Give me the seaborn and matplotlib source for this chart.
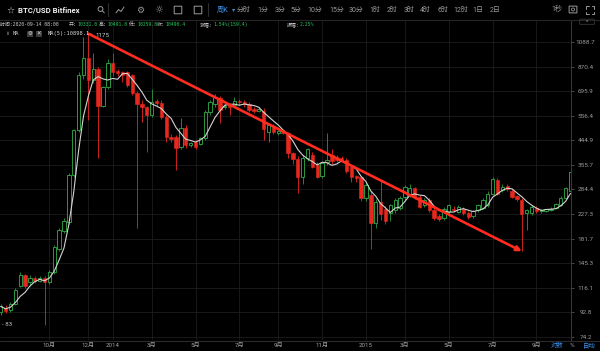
import numpy as np
import pandas as pd
import matplotlib
matplotlib.use('Agg')
import matplotlib.pyplot as plt
import matplotlib.patches as mpatches
import seaborn as sns

# weekly BTC/USD candles (Bitfinex), first week starts 2013-07-29
first_week = '2013-07-29'
opens = [93, 97, 95, 100, 118, 130, 122, 127, 124, 127, 123, 134, 166, 195, 212, 324, 489, 807, 940, 771,
         850, 608, 723, 900, 836, 826, 826, 807, 686, 620, 602, 560, 638, 626, 550, 458, 458, 418, 498, 426,
         440, 432, 455, 575, 617, 655, 600, 614, 614, 637, 632, 620, 590, 582, 580, 480, 505, 475, 481, 476,
         396, 375, 318, 380, 390, 356, 322, 364, 389, 383, 380, 372, 350, 322, 318, 262, 270, 210, 254, 238,
         230, 236, 240, 265, 270, 287, 265, 247, 258, 236, 223, 219, 232, 239, 232, 239, 230, 223, 236, 241,
         247, 274, 310, 283, 294, 281, 267, 259, 230, 230, 240, 233, 234, 236, 240, 247, 264, 280]
highs = [100, 99, 102, 116, 134, 132, 130, 129, 129, 129, 136, 172, 200, 219, 330, 495, 830, 1140, 1175, 984,
         870, 730, 935, 990, 850, 835, 840, 815, 700, 640, 610, 710, 650, 640, 560, 470, 465, 545, 510, 440,
         446, 460, 586, 640, 680, 665, 625, 620, 660, 650, 640, 630, 600, 600, 595, 520, 515, 490, 490, 482,
         400, 385, 390, 415, 400, 365, 365, 477, 412, 390, 385, 380, 355, 325, 322, 305, 280, 260, 310, 245,
         250, 262, 268, 296, 300, 292, 270, 262, 262, 240, 228, 242, 250, 244, 246, 243, 233, 236, 250, 263,
         280, 318, 315, 298, 299, 285, 270, 262, 238, 246, 244, 238, 239, 243, 252, 268, 292, 336]
lows = [91, 92, 93, 99, 117, 116, 118, 121, 122, 83, 120, 132, 163, 192, 208, 318, 480, 780, 535, 750,
        380, 600, 710, 800, 800, 757, 720, 670, 200, 525, 400, 550, 610, 540, 440, 440, 340, 410, 415, 420,
        410, 428, 445, 560, 600, 520, 590, 560, 605, 615, 605, 575, 570, 575, 446, 440, 470, 468, 470, 380,
        360, 275, 300, 370, 345, 315, 315, 355, 360, 365, 365, 330, 305, 305, 255, 255, 166, 200, 215, 208,
        213, 230, 235, 258, 265, 260, 240, 243, 232, 215, 214, 216, 228, 232, 229, 226, 218, 220, 232, 238,
        243, 270, 270, 278, 280, 262, 257, 162, 197, 225, 229, 230, 231, 234, 238, 245, 262, 278]
closes = [98, 94, 100, 114, 131, 118, 127, 124, 127, 123, 134, 168, 197, 213, 324, 489, 807, 940, 771, 850,
          608, 723, 900, 828, 820, 807, 737, 686, 620, 602, 560, 632, 626, 550, 458, 450, 414, 498, 426, 434,
          418, 455, 575, 630, 660, 586, 610, 600, 637, 630, 620, 586, 580, 590, 494, 510, 480, 483, 476, 396,
          375, 318, 380, 410, 350, 320, 362, 372, 367, 372, 372, 336, 318, 315, 262, 297, 210, 254, 228, 214,
          247, 258, 264, 292, 287, 265, 243, 258, 236, 219, 217, 239, 247, 236, 242, 230, 222, 233, 247, 258,
          274, 313, 274, 292, 285, 266, 261, 227, 236, 243, 233, 236, 237, 239, 249, 264, 287, 333]

price_ticks = [74.2, 92.8, 116.1, 145.3, 181.7, 227.3, 284.4, 355.7, 444.9, 556.4, 695.9, 870.4, 1088.7]
month_ticks = ['2013-10-07', '2013-12-02', '2014-01-06', '2014-03-03', '2014-05-05', '2014-07-07',
               '2014-09-01', '2014-11-03', '2015-01-05', '2015-03-02', '2015-05-04', '2015-07-06', '2015-09-07']
month_labels = ['10月', '12月', '2014', '3月', '5月', '7月', '9月', '11月', '2015', '3月', '5月', '7月', '9月']
intervals = ['分时', '1分', '3分', '5分', '10分', '15分', '30分', '1时', '2时', '3时', '4时', '6时', '12时', '1日', '2日']
interval_x = [243.5, 263, 280.5, 296, 314.5, 336.5, 356, 375, 392.5, 409, 425.5, 442.5, 460.5, 478, 495.5]
info_time = '时间:2020-09-14 08:00'
info_labels = ['开:', '高:', '低:', '收:', '涨幅:', '振幅:']
info_values = ['10331.0', '10491.0', '10259.0', '10490.4', '1.54%(159.4)', '2.25%']
info_value_x = [77, 107, 137, 165, 213, 300]

GREEN = '#2a9a3f'
RED = '#e8281f'
BLUE = '#3a8ee6'
GREY = '#9a9a9a'

sns.set_theme(style='dark')
plt.rcParams['font.family'] = ['Roboto', 'Noto Sans CJK SC', 'DejaVu Sans']
MONO = ['DejaVu Sans Mono', 'Noto Sans CJK SC']

df = pd.DataFrame({'date': pd.date_range(first_week, periods=len(opens), freq='7D'),
                   'open': opens, 'high': highs, 'low': lows, 'close': closes})
df['ma5'] = df['close'].rolling(5, min_periods=1).mean()

fig = plt.figure(figsize=(6, 3.51), dpi=100, facecolor='#000000')
ax = fig.add_axes([0, 11 / 351, 571 / 600, 320 / 351])
ax.set_facecolor('#000000')

up = df['close'] >= df['open']
dn = ~up
body_bot = np.minimum(df['open'], df['close'])
body_h = np.maximum((df['close'] - df['open']).abs(), body_bot * 0.006)

ax.vlines(df['date'][up], df['low'][up], df['high'][up], color=GREEN, lw=0.6, zorder=2)
ax.vlines(df['date'][dn], df['low'][dn], df['high'][dn], color=RED, lw=0.6, zorder=2)
ax.bar(df['date'][up], body_h[up], bottom=body_bot[up], width=4.8, facecolor='#000000',
       edgecolor=GREEN, linewidth=0.7, zorder=3)
ax.bar(df['date'][dn], body_h[dn], bottom=body_bot[dn], width=4.8, facecolor=RED,
       edgecolor=RED, linewidth=0.4, zorder=3)
sns.lineplot(data=df, x='date', y='ma5', ax=ax, color='#d4d4d4', linewidth=0.8, zorder=4)

ax.set_yscale('log')
ax.set_ylim(72.2, 1331)
x0 = matplotlib.dates.date2num(df['date'].iloc[0])
ax.set_xlim(x0 - 1.0, x0 + 819.7)
ax.set_xlabel('')
ax.set_ylabel('')

ax.yaxis.set_minor_locator(matplotlib.ticker.NullLocator())
ax.set_yticks(price_ticks)
ax.set_yticklabels([f'{v}' for v in price_ticks])
ax.yaxis.tick_right()
ax.tick_params(axis='y', length=2, width=0.5, color='#666666', labelcolor=GREY, labelsize=4.6, pad=8.5)
for lbl in ax.get_yticklabels():
    lbl.set_ha('center')
ax.set_xticks(pd.to_datetime(month_ticks))
ax.set_xticklabels(month_labels)
ax.tick_params(axis='x', length=0, labelcolor='#a4a4a4', labelsize=4.4, pad=2)
ax.grid(True, color='#1c1c1c', lw=0.6)
for side in ['top', 'left', 'bottom']:
    ax.spines[side].set_visible(False)
ax.spines['right'].set_color('#3a3a3a')
ax.spines['right'].set_linewidth(0.7)

# high / low markers and the trend arrow
i_hi = df['high'].idxmax()
i_lo = df['low'].idxmin()
ax.annotate('1175', xy=(df['date'][i_hi], df['high'][i_hi]), xytext=(5, -1.5), textcoords='offset points',
            color='#d0d0d0', fontsize=4.4, va='center',
            arrowprops=dict(arrowstyle='-', color='#aaaaaa', lw=0.5, shrinkA=0, shrinkB=0))
ax.text(0.003, df['low'][i_lo], '- 83', transform=ax.get_yaxis_transform(), color='#bdbdbd',
        fontsize=4.4, va='center', ha='left')
later = df.loc[i_hi + 1:, 'low']
i_end = later.idxmin()
ax.annotate('', xy=(df['date'][i_end], df['low'][i_end]), xytext=(df['date'][i_hi], df['high'][i_hi]),
            arrowprops=dict(arrowstyle='-|>', color='#ff2d1f', lw=1.9, mutation_scale=7,
                            shrinkA=0, shrinkB=0), zorder=6)

# overlay in pixel coordinates for the toolbar and info rows
ov = fig.add_axes([0, 0, 1, 1], facecolor='none')
ov.set_xlim(0, 600)
ov.set_ylim(351, 0)
ov.axis('off')

ov.plot([0, 600], [19.5, 19.5], color='#262626', lw=0.8)
ov.plot([0, 600], [340.5, 340.5], color='#2a2a2a', lw=0.8)
for sx in [108, 208]:
    ov.plot([sx, sx], [3, 16], color='#2e2e2e', lw=0.8)

ov.text(10, 10, '☆', color='#cfcfcf', fontsize=6.5, ha='center', va='center', family='DejaVu Sans')
ov.text(18, 10, 'BTC/USD Bitfinex', color='#f0f0f0', fontsize=5.6, fontweight='bold', va='center')
ov.add_patch(mpatches.Circle((100.5, 9), 2.4, fill=False, ec='#9a9a9a', lw=0.7))
ov.plot([102.3, 104.3], [10.8, 12.8], color='#9a9a9a', lw=0.7)
ov.plot([116, 118.5, 121, 124], [13, 9.5, 11.5, 7], color='#9a9a9a', lw=0.7)
ov.text(140, 10, '⚙', color='#9a9a9a', fontsize=6.5, ha='center', va='center', family='DejaVu Sans')
ov.text(159, 10, '☼', color='#9a9a9a', fontsize=7, ha='center', va='center', family='DejaVu Sans')
for bx in [178, 198]:
    ov.add_patch(mpatches.FancyBboxPatch((bx - 3.5, 6.5), 7, 7, boxstyle='round,pad=0.3',
                                         fill=False, ec='#9a9a9a', lw=0.7))
ov.text(223, 10, '周K', color=BLUE, fontsize=5.2, ha='center', va='center')
ov.text(233.5, 10, '▾', color=BLUE, fontsize=4.5, ha='center', va='center', family='DejaVu Sans')
for lab, xx in zip(intervals, interval_x):
    ov.text(xx, 10, lab, color=GREY, fontsize=5, ha='center', va='center')
ov.text(556.5, 10, '1秒', color=GREY, fontsize=5, ha='center', va='center')
ov.add_patch(mpatches.FancyBboxPatch((569.5, 6.5), 7, 6, boxstyle='round,pad=0.4',
                                     fill=False, ec='#9a9a9a', lw=0.7))
ov.add_patch(mpatches.Circle((573, 9.5), 1.5, fill=False, ec='#9a9a9a', lw=0.6))
for cx, cy, dx, dy in [(586, 6, 1, 1), (594, 6, -1, 1), (586, 14, 1, -1), (594, 14, -1, -1)]:
    ov.plot([cx, cx, cx + 2.5 * dx], [cy + 2.5 * dy, cy, cy], color='#9a9a9a', lw=0.7)
ov.add_patch(mpatches.FancyBboxPatch((580, 19.5), 14, 4.5, boxstyle='round,pad=0.3',
                                     fill=True, fc='#000000', ec='#3a3a3a', lw=0.6))
ov.text(587, 22.5, '^', color=GREY, fontsize=4, ha='center', va='center')

# info row: labels end right where their green values begin
ov.text(0.5, 24.5, info_time, color='#c8c8c8', fontsize=3.5, va='center', ha='left', family=MONO)
for lab, val, vx in zip(info_labels, info_values, info_value_x):
    ov.text(vx - 0.3, 24.5, lab, color='#c8c8c8', fontsize=3.5, va='center', ha='right', family=MONO)
    ov.text(vx, 24.5, val, color='#22c45a', fontsize=3.5, va='center', ha='left', family=MONO)

ov.text(7, 33.5, '∨', color=GREY, fontsize=4, ha='center', va='center', family='DejaVu Sans')
ov.text(13, 33.5, 'MA', color='#c8c8c8', fontsize=3.9, va='center', family=MONO)
for bx, glyph in [(30, '⚙'), (39, '✕')]:
    ov.add_patch(mpatches.Rectangle((bx - 3, 30.5), 6, 6, fc='#3c3c3c', ec='none'))
    ov.text(bx, 33.6, glyph, color='#e0e0e0', fontsize=4, ha='center', va='center', family='DejaVu Sans')
ov.text(48, 33.5, 'MA(5):10898.1', color='#d8d8d8', fontsize=3.9, va='center', family=MONO)

ov.text(557.5, 345.5, '对数', color=BLUE, fontsize=4.6, ha='center', va='center')
ov.text(572, 345.5, '%', color=GREY, fontsize=4.6, ha='center', va='center')
ov.text(589, 345.5, '自动', color=BLUE, fontsize=4.6, ha='center', va='center')

fig.savefig('out.png', dpi=100, facecolor='#000000')
